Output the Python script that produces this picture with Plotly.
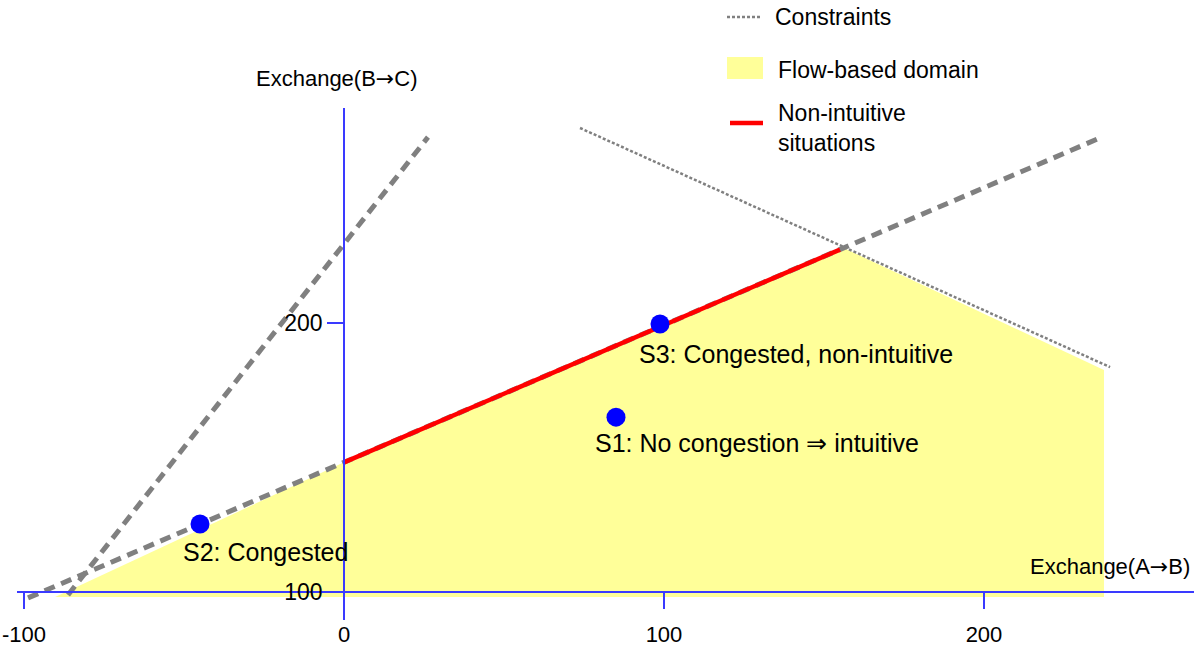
import plotly.graph_objects as go

# ---------------- data ----------------
x_ticks = [-100, 0, 100, 200]
y_ticks = [100, 200]

# constraints
c_bind_x = [-98.75, 236.25]      # binding constraint (thick dashed)
c_bind_y = [97.8, 268.8]
c_steep_x = [-86.25, 26.25]      # steep constraint (thick dashed)
c_steep_y = [98.9, 269.1]
c_thin_x = [73.75, 239.4]        # thin dotted constraint
c_thin_y = [272.5, 183.6]

# flow-based domain
domain_x = [-90.3, 0, 156, 237.5, 237.5]
domain_y = [98.1, 148.2, 228, 182.5, 98.1]

# non-intuitive situations
red_x = [0, 155]
red_y = [148.2, 227.3]

# situations
pt_names = ["S1: No congestion \u21d2 intuitive", "S2: Congested", "S3: Congested, non-intuitive"]
pt_x = [85, -45, 98.75]
pt_y = [165, 125.3, 199.6]

# ---------------- layout geometry ----------------
W, H = 1194, 647
ML, MR, MT, MB = 17, 0, 108, 27
x_range = [-102.19, 265.63]
y_range = [89.59, 279.93]

FONT = "Liberation Sans, Arial, sans-serif"
AXIS_BLUE = "#3a3aff"
GRAY = "#808080"
YELLOW = "#FFFF99"
ARROW = "<span style=\"font-family:'DejaVu Sans'\">\u2192</span>"

fig = go.Figure()

fig.add_trace(go.Scatter(x=domain_x, y=domain_y, fill="toself", fillcolor=YELLOW,
                         mode="lines", line=dict(width=0, color=YELLOW),
                         showlegend=False, hoverinfo="skip"))
fig.add_trace(go.Scatter(x=c_thin_x, y=c_thin_y, mode="lines",
                         line=dict(color=GRAY, width=2.5, dash="3px,2px"),
                         showlegend=False))
fig.add_trace(go.Scatter(x=c_steep_x, y=c_steep_y, mode="lines",
                         line=dict(color=GRAY, width=5, dash="11px,7px"),
                         showlegend=False))
fig.add_trace(go.Scatter(x=c_bind_x, y=c_bind_y, mode="lines",
                         line=dict(color=GRAY, width=5, dash="11px,7px"),
                         showlegend=False))
fig.add_trace(go.Scatter(x=red_x, y=red_y, mode="lines",
                         line=dict(color="#FF0000", width=4.5),
                         showlegend=False))
fig.add_trace(go.Scatter(x=pt_x, y=pt_y, mode="markers",
                         marker=dict(color="#0000FF", size=19),
                         showlegend=False))

# point labels
shifts = [(-23, -26), (-19, -28), (-23, -30)]
for name, px, py, (dx, dy) in zip(pt_names, pt_x, pt_y, shifts):
    fig.add_annotation(x=px, y=py, text=name, showarrow=False, xanchor="left",
                       yanchor="middle", xshift=dx, yshift=dy,
                       font=dict(family=FONT, size=25, color="black"))

# axis titles
fig.add_annotation(x=0, y=y_range[1], text="Exchange(B" + ARROW + "C)", showarrow=False,
                   xanchor="center", yanchor="bottom", xshift=-7, yshift=15,
                   font=dict(family=FONT, size=22, color="black"))
fig.add_annotation(x=x_range[1], y=100, text="Exchange(A" + ARROW + "B)", showarrow=False,
                   xanchor="right", yanchor="bottom", xshift=-2, yshift=11,
                   font=dict(family=FONT, size=22, color="black"))

# manual legend (pixel positions -> paper)
pw, ph = W - ML - MR, H - MT - MB
fx = lambda p: (p - ML) / pw
fy = lambda p: (H - MB - p) / ph

fig.add_shape(type="line", xref="paper", yref="paper", x0=fx(727), x1=fx(762),
              y0=fy(17), y1=fy(17), line=dict(color=GRAY, width=2.5, dash="3px,2px"))
fig.add_shape(type="rect", xref="paper", yref="paper", x0=fx(727), x1=fx(763),
              y0=fy(79), y1=fy(57), fillcolor=YELLOW, line=dict(width=0))
fig.add_shape(type="line", xref="paper", yref="paper", x0=fx(730), x1=fx(763),
              y0=fy(123), y1=fy(123), line=dict(color="#FF0000", width=4.5))
leg = [("Constraints", 773, 17), ("Flow-based domain", 776, 70),
       ("Non-intuitive<br>situations", 776, 128)]
for t, lx, ly in leg:
    fig.add_annotation(xref="paper", yref="paper", x=fx(lx), y=fy(ly), text=t,
                       showarrow=False, xanchor="left", yanchor="middle", align="left",
                       font=dict(family=FONT, size=23, color="black"))

fig.update_layout(
    width=W, height=H,
    margin=dict(l=ML, r=MR, t=MT, b=MB, autoexpand=False),
    paper_bgcolor="white", plot_bgcolor="rgba(0,0,0,0)",
    font=dict(family=FONT, color="black"),
    xaxis=dict(range=x_range, anchor="free", automargin=False,
               position=(100 - y_range[0]) / (y_range[1] - y_range[0]),
               tickvals=x_ticks, ticktext=[str(v) for v in x_ticks],
               showline=True, linecolor=AXIS_BLUE, linewidth=1.5,
               ticks="outside", ticklen=16, tickcolor=AXIS_BLUE, tickwidth=1.5,
               showgrid=False, zeroline=False, ticklabelstandoff=7,
               tickfont=dict(family=FONT, size=22, color="black")),
    yaxis=dict(range=y_range, anchor="free", automargin=False,
               position=(0 - x_range[0]) / (x_range[1] - x_range[0]),
               tickvals=y_ticks, ticktext=[str(v) for v in y_ticks],
               showline=True, linecolor=AXIS_BLUE, linewidth=1.5,
               ticks="outside", ticklen=16, tickcolor=AXIS_BLUE, tickwidth=1.5,
               showgrid=False, zeroline=False,
               tickfont=dict(family=FONT, size=23, color="black")),
)

fig.write_html("out.html", config={"displayModeBar": False},
               post_script="document.body.style.margin='0';document.body.style.overflow='hidden';")
